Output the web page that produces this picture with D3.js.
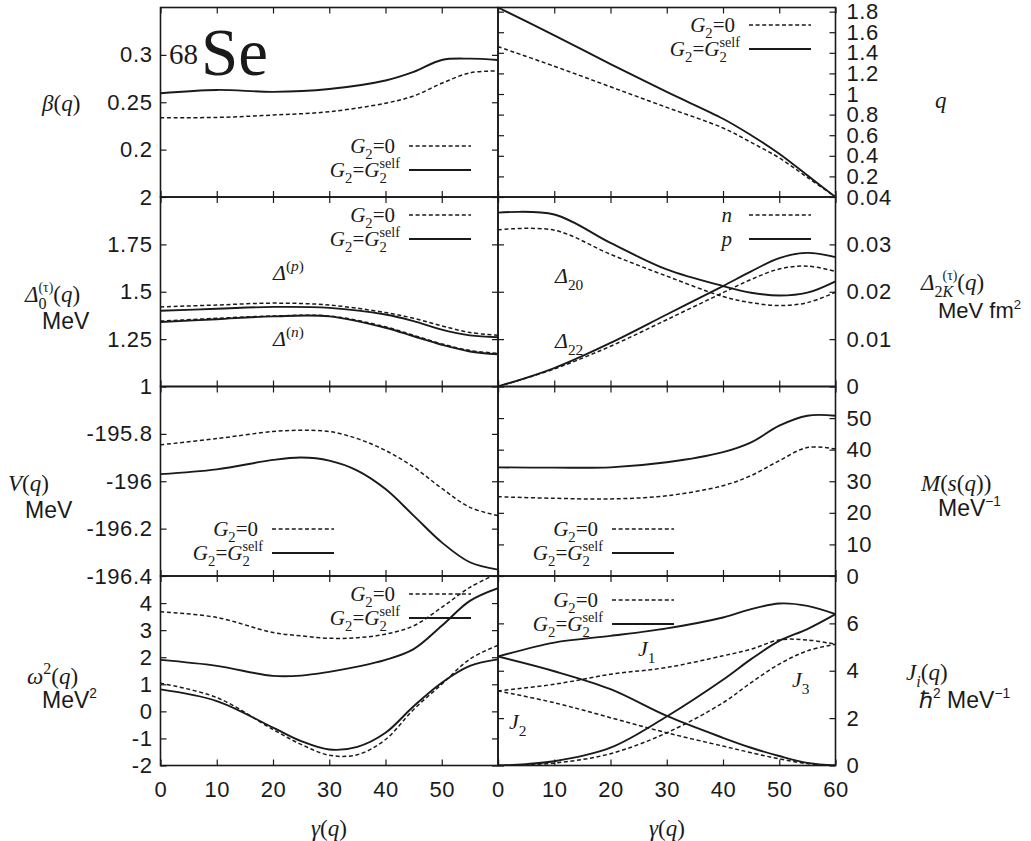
<!DOCTYPE html>
<html>
<meta charset="utf-8">
<style>
  body { margin: 0; background: #fff; }
  svg { display: block; }
  .tick text { font-family: "Liberation Sans", Arial, sans-serif; font-size: 22px; letter-spacing: 0.6px; fill: #1a1a1a; }
  .tick line { stroke: #1a1a1a; stroke-width: 1.2; }
  .serif { font-family: "Liberation Serif", "Times New Roman", serif; fill: #1a1a1a; }
  .sans { font-family: "Liberation Sans", Arial, sans-serif; fill: #1a1a1a; }
</style>
<body>
<svg width="1031" height="841"></svg>
<script src="https://cdn.jsdelivr.net/npm/d3@7"></script>
<script>
// gamma grid (degrees)
const gamma = [0, 10, 20, 30, 40, 45, 50, 55, 60]
const gammaFine = [0, 10, 20, 25, 30, 35, 40, 45, 50, 55, 60]
const gammaTicks = [0, 10, 20, 30, 40, 50, 60]

// beta(q)
const betaZero = [0.2337, 0.234, 0.2365, 0.240, 0.249, 0.2566, 0.270, 0.281, 0.283]
const betaSelf = [0.2595, 0.263, 0.261, 0.264, 0.273, 0.282, 0.2946, 0.296, 0.2946]
// q
const qZero = [1.46, 1.27, 1.07, 0.87, 0.67, 0.53, 0.38, 0.19, 0]
const qSelf = [1.84, 1.57, 1.29, 1.02, 0.76, 0.60, 0.42, 0.21, 0]
// monopole gaps
const gapPZero = [1.42, 1.43, 1.44, 1.43, 1.39, 1.36, 1.32, 1.285, 1.27]
const gapPSelf = [1.40, 1.41, 1.42, 1.415, 1.38, 1.345, 1.30, 1.27, 1.26]
const gapNZero = [1.345, 1.36, 1.372, 1.372, 1.315, 1.27, 1.225, 1.19, 1.175]
const gapNSelf = [1.34, 1.355, 1.37, 1.37, 1.31, 1.265, 1.22, 1.185, 1.17]
// quadrupole gaps
const d20n = [0.0331, 0.033, 0.0279, 0.0233, 0.019, 0.0177, 0.0171, 0.0177, 0.0199]
const d20p = [0.0367, 0.0363, 0.0303, 0.0247, 0.0212, 0.0198, 0.0192, 0.0198, 0.0222]
const d22n = [0, 0.0037, 0.0085, 0.0141, 0.0198, 0.0226, 0.0248, 0.0254, 0.0243]
const d22p = [0, 0.0039, 0.0092, 0.0152, 0.0212, 0.0243, 0.0271, 0.0282, 0.0273]
// V(q)
const vZero = [-195.846, -195.82, -195.79, -195.785, -195.79, -195.82, -195.87, -195.94, -196.03, -196.11, -196.145]
const vSelf = [-195.97, -195.95, -195.91, -195.90, -195.913, -195.955, -196.033, -196.145, -196.258, -196.342, -196.373]
// M(s(q))
const massZero = [25.1, 24.6, 24.4, 25.4, 28.6, 31.8, 36.5, 40.7, 40.2]
const massSelf = [34.4, 34.3, 34.4, 36.0, 39.2, 42.3, 47.6, 50.75, 50.75]
// omega^2
const omUpZero = [3.68, 3.47, 2.91, 2.79, 2.70, 2.72, 2.85, 3.16, 3.84, 4.58, 5.1]
const omUpSelf = [1.90, 1.68, 1.31, 1.32, 1.46, 1.65, 1.90, 2.30, 3.16, 4.08, 4.55]
const omLoZero = [1.04, 0.51, -0.67, -1.22, -1.62, -1.60, -1.04, 0.07, 1.0, 1.93, 2.44]
const omLoSelf = [0.81, 0.38, -0.60, -1.10, -1.41, -1.31, -0.79, 0.19, 1.06, 1.68, 1.92]
// moments of inertia
const j1Zero = [3.15, 3.43, 3.85, 4.14, 4.63, 4.91, 5.30, 5.30, 5.12]
const j1Self = [4.60, 5.19, 5.47, 5.79, 6.25, 6.60, 6.84, 6.74, 6.39]
const j2Zero = [3.15, 2.65, 2.02, 1.38, 0.82, 0.54, 0.28, 0.08, 0]
const j2Self = [4.60, 3.98, 3.22, 2.09, 1.17, 0.75, 0.40, 0.11, 0]
const j3Zero = [0, 0.1, 0.5, 1.38, 2.65, 3.50, 4.28, 4.84, 5.12]
const j3Self = [0, 0.18, 0.75, 2.07, 3.62, 4.49, 5.26, 5.76, 6.39]

// tick values and labels
const betaTicks = [0.2, 0.25, 0.3], betaLabels = ['0.2', '0.25', '0.3']
const qTicks = [0.2, 0.4, 0.6, 0.8, 1, 1.2, 1.4, 1.6, 1.8]
const qLabels = ['0.2', '0.4', '0.6', '0.8', '1', '1.2', '1.4', '1.6', '1.8']
const gap0Ticks = [1, 1.25, 1.5, 1.75, 2], gap0Labels = ['1', '1.25', '1.5', '1.75', '2']
const gap2Ticks = [0, 0.01, 0.02, 0.03, 0.04], gap2Labels = ['0', '0.01', '0.02', '0.03', '0.04']
const vTicks = [-196.4, -196.2, -196, -195.8], vLabels = ['-196.4', '-196.2', '-196', '-195.8']
const massTicks = [0, 10, 20, 30, 40, 50], massLabels = ['0', '10', '20', '30', '40', '50']
const omTicks = [-2, -1, 0, 1, 2, 3, 4], omLabels = ['-2', '-1', '0', '1', '2', '3', '4']
const jTicks = [0, 2, 4, 6], jLabels = ['0', '2', '4', '6']

let svg = d3.select('svg')
let colX = [160.5, 498], panelW = 337.5
let rowY = [7.5, 197, 386.5, 576], panelH = 189.5

let DASH = '4,2.6'

let panels = [
  {c: 0, r: 0, dom: [0.15, 0.35], ticks: betaTicks, labels: betaLabels, series: [
    {x: gamma, y: betaZero, dash: true}, {x: gamma, y: betaSelf}]},
  {c: 1, r: 0, dom: [0, 1.84], ticks: qTicks, labels: qLabels, series: [
    {x: gamma, y: qZero, dash: true}, {x: gamma, y: qSelf}]},
  {c: 0, r: 1, dom: [1, 2], ticks: gap0Ticks, labels: gap0Labels, series: [
    {x: gamma, y: gapPZero, dash: true}, {x: gamma, y: gapPSelf},
    {x: gamma, y: gapNZero, dash: true}, {x: gamma, y: gapNSelf}]},
  {c: 1, r: 1, dom: [0, 0.04], ticks: gap2Ticks, labels: gap2Labels, series: [
    {x: gamma, y: d20n, dash: true}, {x: gamma, y: d20p},
    {x: gamma, y: d22n, dash: true}, {x: gamma, y: d22p}]},
  {c: 0, r: 2, dom: [-196.4, -195.6], ticks: vTicks, labels: vLabels, series: [
    {x: gammaFine, y: vZero, dash: true}, {x: gammaFine, y: vSelf}]},
  {c: 1, r: 2, dom: [0, 60], ticks: massTicks, labels: massLabels, series: [
    {x: gamma, y: massZero, dash: true}, {x: gamma, y: massSelf}]},
  {c: 0, r: 3, dom: [-2, 5], ticks: omTicks, labels: omLabels, series: [
    {x: gammaFine, y: omUpZero, dash: true}, {x: gammaFine, y: omUpSelf},
    {x: gammaFine, y: omLoZero, dash: true}, {x: gammaFine, y: omLoSelf}]},
  {c: 1, r: 3, dom: [0, 8], ticks: jTicks, labels: jLabels, series: [
    {x: gamma, y: j1Zero, dash: true}, {x: gamma, y: j1Self},
    {x: gamma, y: j2Zero, dash: true}, {x: gamma, y: j2Self},
    {x: gamma, y: j3Zero, dash: true}, {x: gamma, y: j3Self}]}
]

let defs = svg.append('defs')

panels.forEach((p, i) => {
  let x0 = colX[p.c], y0 = rowY[p.r]
  let x = d3.scaleLinear().domain([0, 60]).range([x0, x0 + panelW])
  let y = d3.scaleLinear().domain(p.dom).range([y0 + panelH, y0])
  let g = svg.append('g')

  defs.append('clipPath').attr('id', 'clip' + i)
    .append('rect').attr('x', x0).attr('y', y0).attr('width', panelW).attr('height', panelH)

  // curves
  let line = d3.line().curve(d3.curveCatmullRom.alpha(0.5))
  g.append('g').attr('clip-path', 'url(#clip' + i + ')')
    .selectAll('path').data(p.series).enter()
    .append('path')
    .attr('d', s => line(s.x.map((v, k) => [x(v), y(s.y[k])])))
    .attr('fill', 'none')
    .attr('stroke', '#1a1a1a')
    .attr('stroke-width', s => s.dash ? 1.5 : 1.9)
    .attr('stroke-dasharray', s => s.dash ? DASH : null)

  // y axes: labelled side + mirror side
  let fmt = v => p.labels[p.ticks.indexOf(v)]
  let labelled = p.c === 0 ? d3.axisLeft(y) : d3.axisRight(y)
  let mirror = p.c === 0 ? d3.axisRight(y) : d3.axisLeft(y)
  g.append('g').attr('transform', `translate(${p.c === 0 ? x0 : x0 + panelW},0)`)
    .call(labelled.tickValues(p.ticks).tickFormat(fmt).tickSize(-6).tickSizeOuter(0).tickPadding(p.c === 0 ? 8 : 11))
    .call(a => a.select('.domain').remove())
  g.append('g').attr('transform', `translate(${p.c === 0 ? x0 + panelW : x0},0)`)
    .call(mirror.tickValues(p.ticks).tickFormat('').tickSize(-6).tickSizeOuter(0))
    .call(a => a.select('.domain').remove())

  // x axes
  let bottomTicks = p.c === 0 ? gammaTicks.slice(0, 6) : gammaTicks
  g.append('g').attr('transform', `translate(0,${y0 + panelH})`)
    .call(d3.axisBottom(x).tickValues(gammaTicks).tickSize(-6).tickSizeOuter(0).tickPadding(16)
      .tickFormat(v => (p.r === 3 && bottomTicks.includes(v)) ? String(v) : ''))
    .call(a => a.select('.domain').remove())
  g.append('g').attr('transform', `translate(0,${y0})`)
    .call(d3.axisTop(x).tickValues(gammaTicks).tickSize(-6).tickSizeOuter(0).tickFormat(''))
    .call(a => a.select('.domain').remove())

  g.append('rect').attr('x', x0).attr('y', y0).attr('width', panelW).attr('height', panelH)
    .attr('fill', 'none').attr('stroke', '#1a1a1a').attr('stroke-width', 1.6)
})

// math-ish text built from parts
function mtext(x, y, parts, size, anchor) {
  let t = svg.append('text').attr('x', x).attr('y', y)
    .attr('class', 'serif').style('font-size', size + 'px')
    .attr('text-anchor', anchor || 'start')
  let shift = 0, prev = null
  parts.forEach(p => {
    let s = p.sub ? size * 0.3 : p.sup ? -size * 0.42 : 0
    let sp = t.append('tspan').text(p.t).attr('dy', s - shift)
    if (p.i) sp.style('font-style', 'italic')
    if (p.sans) sp.style('font-family', '"Liberation Sans", Arial, sans-serif')
    if (p.sub || p.sup) sp.style('font-size', (size * (p.small || 0.7)) + 'px')
    if (p.stack && prev) sp.attr('dx', -prev.node().getComputedTextLength())
    shift = s
    prev = sp
  })
  return t
}

// legends
function legend(xEnd, yLine, entries) {
  entries.forEach((e, k) => {
    let ly = yLine + k * 24
    if (e === 'zero') {
      mtext(xEnd, ly + 7, [{t: 'G', i: 1}, {t: '2', sub: 1}, {t: '=0'}], 21, 'end')
    } else if (e === 'self') {
      mtext(xEnd + 5, ly + 7, [{t: 'G', i: 1}, {t: '2', sub: 1}, {t: '='}, {t: 'G', i: 1},
        {t: '2', sub: 1}, {t: 'self', sup: 1, stack: 1, small: 0.68}], 21, 'end')
    } else {
      mtext(xEnd - 3, ly + 7, [{t: e, i: 1}], 21, 'end')
    }
    svg.append('line').attr('x1', xEnd + 14).attr('x2', xEnd + 76).attr('y1', ly).attr('y2', ly)
      .attr('stroke', '#1a1a1a').attr('stroke-width', k === 0 ? 1.5 : 1.9)
      .attr('stroke-dasharray', k === 0 ? DASH : null)
  })
}
legend(395, 146, ['zero', 'self'])
legend(735, 25, ['zero', 'self'])
legend(395, 215, ['zero', 'self'])
legend(735, 215, ['n', 'p'])
legend(258, 529, ['zero', 'self'])
legend(598, 529, ['zero', 'self'])
legend(395, 594, ['zero', 'self'])
legend(598, 600, ['zero', 'self'])

// 68Se
mtext(169, 64, [{t: '68'}], 29)
mtext(201, 75, [{t: 'Se'}], 67)

// curve annotations
mtext(273, 280, [{t: 'Δ', i: 1}, {t: '(', sup: 1}, {t: 'p', sup: 1, i: 1}, {t: ')', sup: 1}], 22)
mtext(273, 346, [{t: 'Δ', i: 1}, {t: '(', sup: 1}, {t: 'n', sup: 1, i: 1}, {t: ')', sup: 1}], 22)
mtext(555, 283, [{t: 'Δ', i: 1}, {t: '20', sub: 1}], 22)
mtext(555, 348, [{t: 'Δ', i: 1}, {t: '22', sub: 1}], 22)
mtext(638, 656, [{t: 'J', i: 1}, {t: '1', sub: 1}], 22)
mtext(509, 729, [{t: 'J', i: 1}, {t: '2', sub: 1}], 22)
mtext(792, 687, [{t: 'J', i: 1}, {t: '3', sub: 1}], 22)

// axis titles, left
mtext(42, 111, [{t: 'β', i: 1}, {t: '('}, {t: 'q', i: 1}, {t: ')'}], 23)
mtext(25, 302, [{t: 'Δ', i: 1}, {t: '0', sub: 1}, {t: '(τ)', sup: 1, stack: 1, small: 0.6},
  {t: '('}, {t: 'q', i: 1}, {t: ')'}], 23)
mtext(42, 329, [{t: 'MeV', sans: 1}], 23)
mtext(8, 491, [{t: 'V', i: 1}, {t: '('}, {t: 'q', i: 1}, {t: ')'}], 23)
mtext(25, 518, [{t: 'MeV', sans: 1}], 23)
mtext(27, 684, [{t: 'ω', i: 1}, {t: '2', sup: 1}, {t: '('}, {t: 'q', i: 1}, {t: ')'}], 23)
mtext(42, 708, [{t: 'MeV', sans: 1}, {t: '2', sup: 1, sans: 1, small: 0.6}], 23)

// axis titles, right
mtext(935, 108, [{t: 'q', i: 1}], 23)
mtext(921, 290, [{t: 'Δ', i: 1}, {t: '2', sub: 1}, {t: 'K', sub: 1, i: 1}, {t: '(τ)', sup: 1, stack: 1, small: 0.6},
  {t: '('}, {t: 'q', i: 1}, {t: ')'}], 23)
mtext(938, 318, [{t: 'MeV fm', sans: 1}, {t: '2', sup: 1, sans: 1, small: 0.6}], 22)
mtext(921, 491, [{t: 'M', i: 1}, {t: '('}, {t: 's', i: 1}, {t: '('}, {t: 'q', i: 1}, {t: '))'}], 23)
mtext(938, 516, [{t: 'MeV', sans: 1}, {t: '−1', sup: 1, sans: 1, small: 0.6}], 23)
mtext(906, 680, [{t: 'J', i: 1}, {t: 'i', sub: 1, i: 1}, {t: '('}, {t: 'q', i: 1}, {t: ')'}], 23)
mtext(919, 708, [{t: 'ℏ', sans: 1}, {t: '2', sup: 1, small: 0.6, sans: 1}, {t: ' MeV', sans: 1}, {t: '−1', sup: 1, sans: 1, small: 0.6}], 23)

// x titles
mtext(329, 836, [{t: 'γ', i: 1}, {t: '('}, {t: 'q', i: 1}, {t: ')'}], 23, 'middle')
mtext(667, 836, [{t: 'γ', i: 1}, {t: '('}, {t: 'q', i: 1}, {t: ')'}], 23, 'middle')
</script>
</body>
</html>
